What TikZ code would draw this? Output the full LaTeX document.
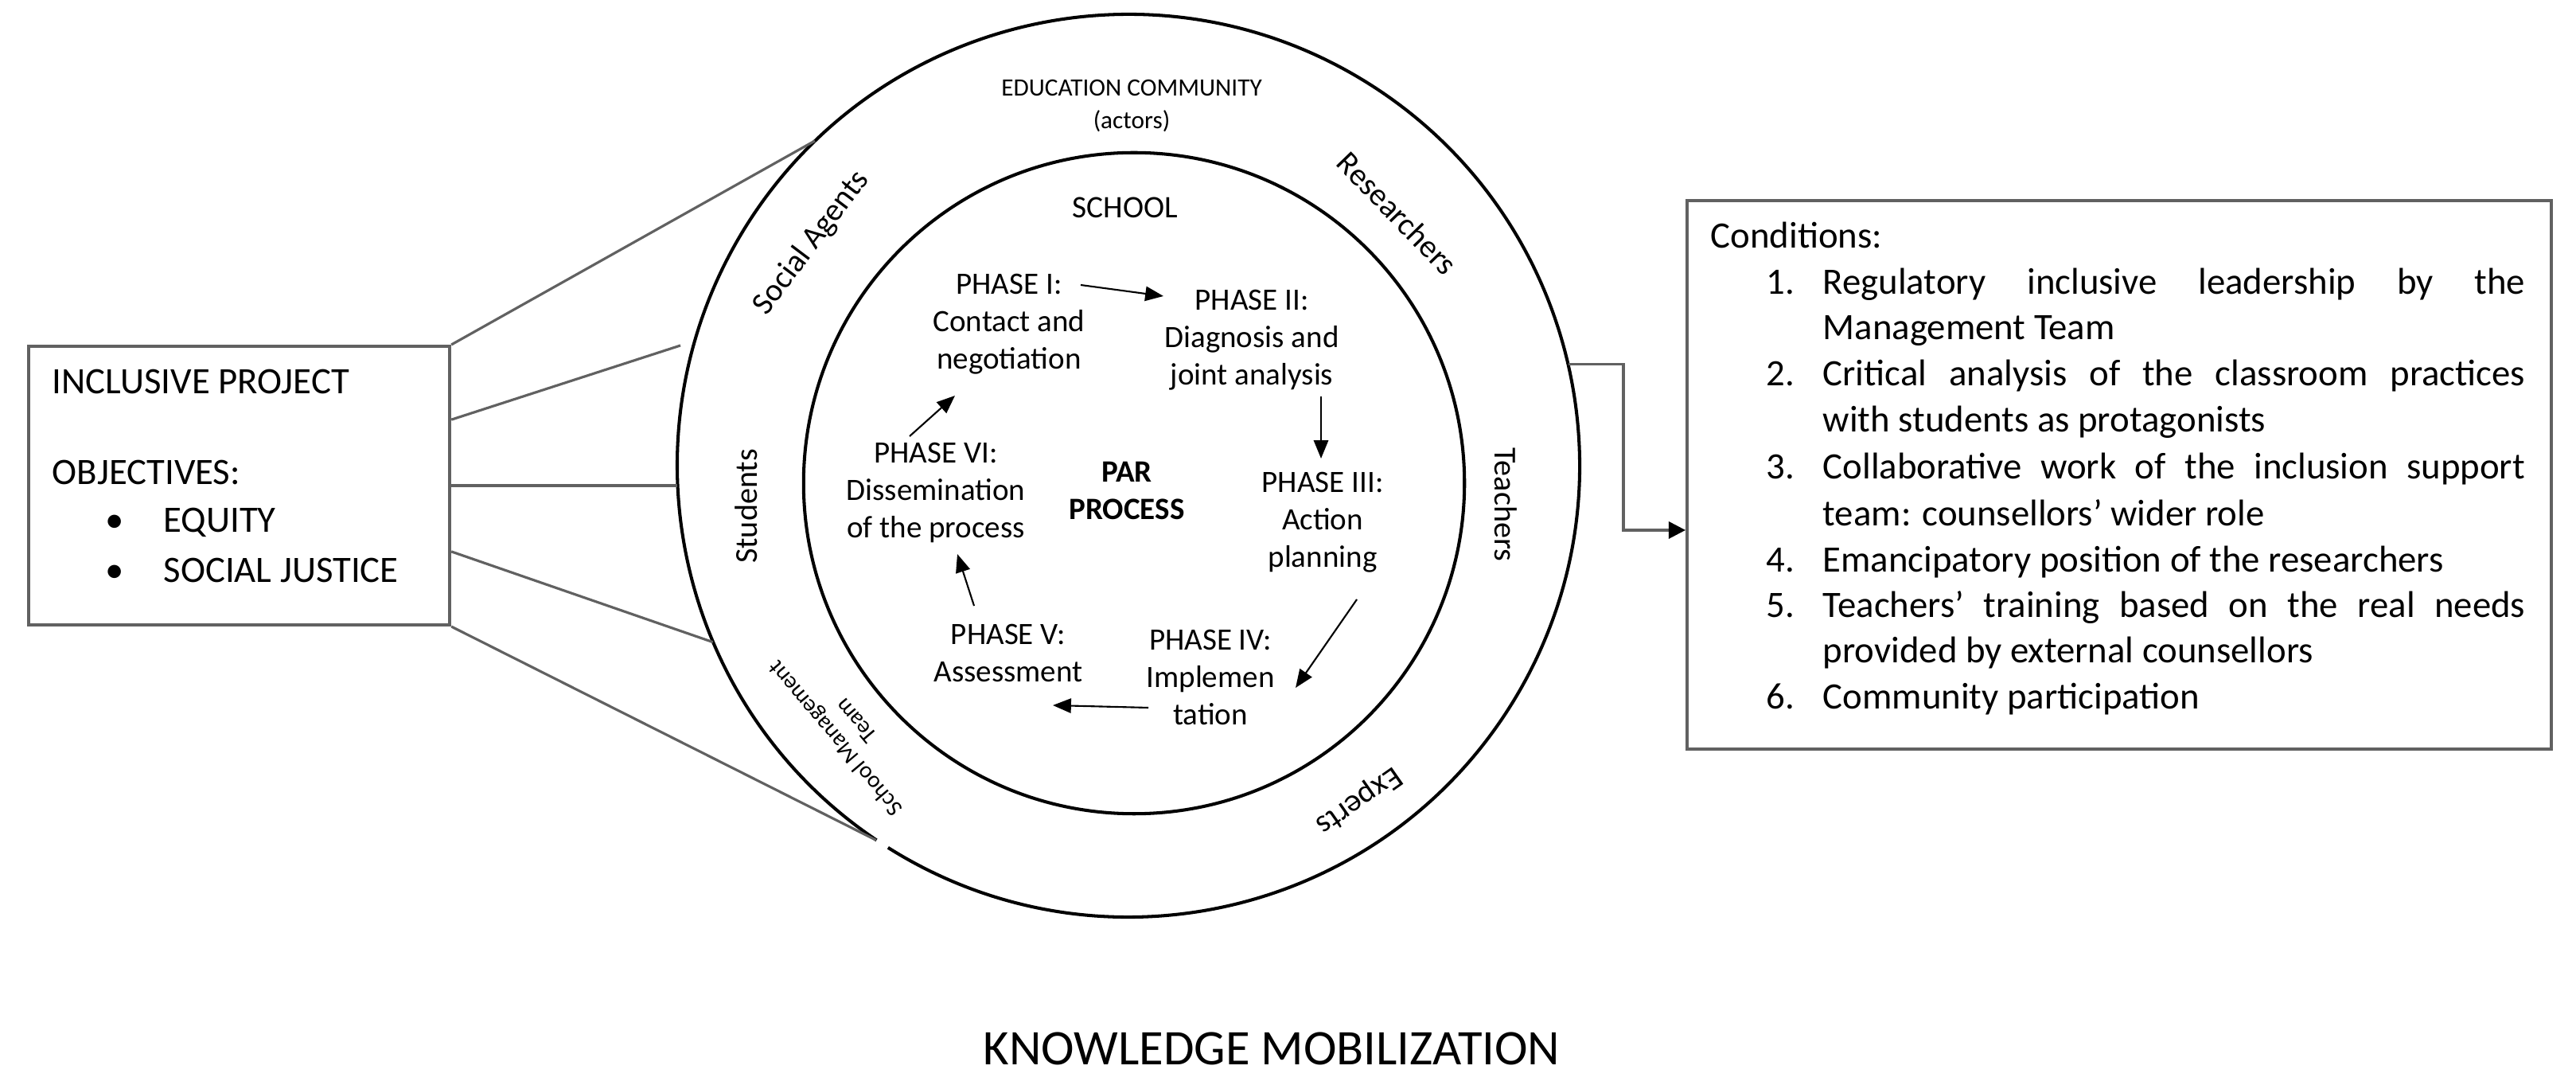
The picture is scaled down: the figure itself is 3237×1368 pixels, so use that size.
\documentclass[tikz,border=0pt]{standalone}
\usepackage{fontspec}
\setmainfont{Carlito}
\usetikzlibrary{arrows.meta,calc}
\begin{document}
\begin{tikzpicture}[x=0.01cm,y=0.01cm,
  ringline/.style={line width=1.15pt, draw=black},
  boxline/.style={draw=black!62, line width=1.1pt},
  link/.style={draw=black!62, line width=0.9pt},
  arr/.style={-{Triangle[length=6.5pt,width=5.2pt]}, line width=0.6pt},
  phase/.style={align=center, anchor=north, inner sep=0, font=\fontsize{11.1}{13.4}\selectfont},
  ring/.style={inner sep=0, font=\fontsize{11.4}{13}\selectfont},
  txt/.style={inner sep=0, font=\fontsize{13.3}{16}\selectfont},
  just/.style={inner sep=0, anchor=base west, font=\fontsize{13.3}{16}\selectfont}
]
\useasboundingbox (0,0) rectangle (3237,-1368);

% circles
\node[circle, minimum size=11.34cm, inner sep=0, outer sep=0] (outer) at (1418,-585) {};
\draw[ringline] ($(outer.center)+(237.8:567)$) arc[start angle=237.8, end angle=596.06, radius=567];
\node[circle, ringline, draw, minimum size=8.3cm, inner sep=0] (inner) at (1425,-607) {};

% boxes
\node[boxline, minimum width=5.29cm, minimum height=3.5cm, anchor=north west, inner sep=0] (lb) at (34,-433) {};
\node[boxline, minimum width=10.85cm, minimum height=6.89cm, anchor=north west, inner sep=0] (rb) at (2118,-250) {};

% links from the left box
\coordinate (l2end) at (855,-434);
\draw[link] (lb.north east) -- (outer.134.6);
\draw[link] ($(lb.north east)!0.266!(lb.south east)$) -- (l2end);
\draw[link] (lb.east) -- (lb.east -| outer.west);
\draw[link] ($(lb.north east)!0.734!(lb.south east)$) -- (outer.203.8);
\draw[link] (lb.south east) -- (outer.236.06);

% connector to the right box
\coordinate (jx) at (2040,0);
\coordinate (rbin) at ($(rb.north west)!0.6!(rb.south west)$);
\draw[link, -{Triangle[length=6pt,width=6pt,color=black]}] (outer.13) -- (outer.13 -| jx) |- (rbin);

% left box text
\node[txt, anchor=base west] (ip) at (65,-495) {INCLUSIVE PROJECT};
\node[txt, anchor=base west] (obj) at (65,-609) {OBJECTIVES:};
\node[txt, anchor=base] (b1) at (144,-669) {\textbullet};
\node[txt, anchor=base west] (eq) at (205,-669) {EQUITY};
\node[txt, anchor=base] (b2) at (144,-732) {\textbullet};
\node[txt, anchor=base west] (sj) at (205,-732) {SOCIAL JUSTICE};

% right box text
\node[just] (cond) at (2149,-312) {Conditions:};
\node[just] (n1) at (2219,-370) {1.};
\node[just] (t1a) at (2290,-370) {\makebox[8.82cm][s]{Regulatory inclusive leadership by the}};
\node[just] (t1b) at (2290,-427) {Management Team};
\node[just] (n2) at (2219,-485) {2.};
\node[just] (t2a) at (2290,-485) {\makebox[8.82cm][s]{Critical analysis of the classroom practices}};
\node[just] (t2b) at (2290,-543) {with students as protagonists};
\node[just] (n3) at (2219,-602) {3.};
\node[just] (t3a) at (2290,-602) {\makebox[8.82cm][s]{Collaborative work of the inclusion support}};
\node[just] (t3b) at (2290,-661) {team: counsellors’ wider role};
\node[just] (n4) at (2219,-719) {4.};
\node[just] (t4a) at (2290,-719) {Emancipatory position of the researchers};
\node[just] (n5) at (2219,-776) {5.};
\node[just] (t5a) at (2290,-776) {\makebox[8.82cm][s]{Teachers’ training based on the real needs}};
\node[just] (t5b) at (2290,-833) {provided by external counsellors};
\node[just] (n6) at (2219,-891) {6.};
\node[just] (t6a) at (2290,-891) {Community participation};

% headings in the circles
\node[anchor=north, align=center, inner sep=0, font=\fontsize{8.9}{11.4}\selectfont] (ec) at (1422,-100) {EDUCATION COMMUNITY\\(actors)};
\node[anchor=north, inner sep=0, font=\fontsize{11.2}{13}\selectfont] (school) at (1414,-247) {SCHOOL};

% ring labels
\node[ring, rotate=53] (sa) at (1020,-305) {Social Agents};
\node[ring, rotate=-46] (res) at (1756,-268) {Researchers};
\node[ring, rotate=-90] (tea) at (1892,-634) {Teachers};
\node[ring, rotate=90] (stu) at (938,-636) {Students};
\node[ring, rotate=215] (expr) at (1707,-1005) {Experts};
\node[ring, rotate=130, align=center, font=\fontsize{8.3}{9.7}\selectfont] (smt) at (1062,-917) {School Management\\Team};

% phases
\node[phase] (p1) at (1268,-343) {PHASE I:\\Contact and\\negotiation};
\node[phase] (p2) at (1573,-363) {PHASE II:\\Diagnosis and\\joint analysis};
\node[phase] (p3) at (1662,-592) {PHASE III:\\Action\\planning};
\node[phase] (p4) at (1521,-790) {PHASE IV:\\Implemen\\tation};
\node[phase] (p5) at (1267,-783) {PHASE V:\\Assessment};
\node[phase] (p6) at (1176,-555) {PHASE VI:\\Dissemination\\of the process};
\node[phase, font=\fontsize{11.1}{13.4}\selectfont\bfseries] (par) at (1416,-579) {PAR\\PROCESS};

% phase arrows
\coordinate (a12s) at (1358,-358); \coordinate (a12e) at (1462,-372);
\coordinate (a23s) at (1660,-498); \coordinate (a23e) at (1660,-576);
\coordinate (a34s) at (1705,-753); \coordinate (a34e) at (1628,-864);
\coordinate (a45s) at (1443,-889); \coordinate (a45e) at (1323,-886);
\coordinate (a56s) at (1224,-761); \coordinate (a56e) at (1203,-696);
\coordinate (a61s) at (1143,-548); \coordinate (a61e) at (1200,-497);
\draw[arr] (a12s) -- (a12e);
\draw[arr] (a23s) -- (a23e);
\draw[arr] (a34s) -- (a34e);
\draw[arr] (a45s) -- (a45e);
\draw[arr] (a56s) -- (a56e);
\draw[arr] (a61s) -- (a61e);

% title
\node[anchor=base, inner sep=0, font=\fontsize{17.8}{20}\selectfont] (km) at (1598,-1337) {KNOWLEDGE MOBILIZATION};
\end{tikzpicture}
\end{document}
